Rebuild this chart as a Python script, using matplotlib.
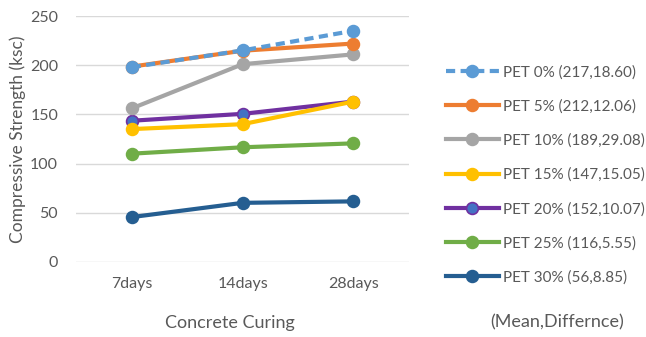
import matplotlib.pyplot as plt
import numpy as np

plt.rcParams['font.family'] = ['Lato', 'DejaVu Sans']

curing = ['7days', '14days', '28days']
labels = ['PET 0% (217,18.60)', 'PET 5% (212,12.06)', 'PET 10% (189,29.08)',
          'PET 15% (147,15.05)', 'PET 20% (152,10.07)', 'PET 25% (116,5.55)',
          'PET 30% (56,8.85)']
pet0 = [198, 215, 235]
pet5 = [198.5, 214.7, 222]
pet10 = [156, 201, 211]
pet15 = [135, 140, 163]
pet20 = [143.5, 150.5, 163]
pet25 = [110, 116.5, 120.5]
pet30 = [45.5, 60, 61.5]

series = [pet0, pet5, pet10, pet15, pet20, pet25, pet30]
colors = ['#5B9BD5', '#ED7D31', '#A5A5A5', '#FFC000', '#7030A0', '#70AD47', '#255E91']
mfaces = ['#5B9BD5', '#ED7D31', '#A5A5A5', '#FFC000', '#4472C4', '#70AD47', '#255E91']
grey = '#595959'

fig = plt.figure(figsize=(6.46, 3.37), dpi=100)
ax = fig.add_axes([0.118, 0.223, 0.515, 0.7295])
x = np.arange(len(curing))

# draw bottom-up so PET 0% sits on top
for i in reversed(range(len(series))):
    ls = (0, (2.2, 1.3)) if i == 0 else '-'
    ax.plot(x, series[i], color=colors[i], lw=3, ls=ls, marker='o', ms=8.5,
            markerfacecolor=mfaces[i], markeredgecolor=colors[i], mew=1.2,
            label=labels[i], zorder=3 + (len(series) - i))

ax.set_xlim(-0.5, 2.5)
ax.set_ylim(0, 250)
ax.set_yticks(range(0, 251, 50))
ax.set_xticks(x)
ax.set_xticklabels(curing)
ax.grid(axis='y', color='#D9D9D9', lw=1)
ax.set_axisbelow(True)
for s in ax.spines.values():
    s.set_visible(False)
ax.tick_params(length=0, labelsize=11.5, labelcolor=grey)
ax.tick_params(axis='x', pad=11)
ax.tick_params(axis='y', pad=13)
ax.set_ylabel('Compressive Strength (ksc)', fontsize=12.5, color=grey, labelpad=3)
fig.text(0.356, 0.028, 'Concrete Curing', ha='center', fontsize=13, color=grey)
fig.text(0.862, 0.028, '(Mean,Differnce)', ha='center', fontsize=13, color=grey)

h, l = ax.get_legend_handles_labels()
order = sorted(range(len(l)), key=lambda k: labels.index(l[k]))
fig.legend([h[k] for k in order], [l[k] for k in order], loc='upper left',
           bbox_to_anchor=(0.681, 0.825), frameon=False, fontsize=11,
           handlelength=3.45, labelspacing=1.3, handletextpad=0.25,
           labelcolor=grey, borderaxespad=0)

fig.savefig('out.png', dpi=100)
